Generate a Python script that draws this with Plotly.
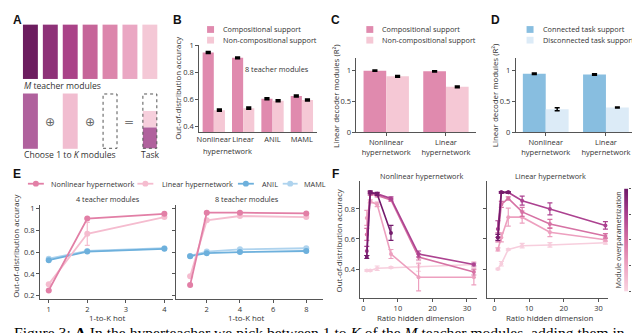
import math
import plotly.graph_objects as go

W, H = 640, 333
FONT = "Open Sans"

def X(px):
    return px / W

def Y(py):
    return 1 - py / H

# ---------------- data ----------------
# Panel B
b_groups = ["Nonlinear", "Linear", "ANIL", "MAML"]
b_comp = [0.95, 0.91, 0.605, 0.625]
b_comp_err = [0.005, 0.004, 0.005, 0.005]
b_noncomp = [0.52, 0.535, 0.59, 0.595]
b_noncomp_err = [0.006, 0.006, 0.004, 0.005]

# Panel C
c_groups = ["Nonlinear<br>hypernetwork", "Linear<br>hypernetwork"]
c_comp = [0.99, 0.98]
c_comp_err = [0.005, 0.005]
c_noncomp = [0.90, 0.73]
c_noncomp_err = [0.008, 0.008]

# Panel D
d_groups = ["Nonlinear<br>hypernetwork", "Linear<br>hypernetwork"]
d_conn = [0.94, 0.93]
d_conn_err = [0.006, 0.006]
d_disc = [0.37, 0.40]
d_disc_err = [0.025, 0.008]

# Panel E
e_methods = ["Nonlinear hypernetwork", "Linear hypernetwork", "ANIL", "MAML"]
e4_k = [1, 2, 4]
e4_vals = {
    "Nonlinear hypernetwork": [0.25, 0.907, 0.95],
    "Linear hypernetwork": [0.307, 0.767, 0.92],
    "ANIL": [0.526, 0.605, 0.63],
    "MAML": [0.54, 0.61, 0.635],
}
e4_err = {
    "Nonlinear hypernetwork": [0.005, 0.005, 0.005],
    "Linear hypernetwork": [0.005, 0.105, 0.008],
    "ANIL": [0.005, 0.005, 0.005],
    "MAML": [0.005, 0.005, 0.005],
}
e8_k = [1, 2, 4, 8]
e8_vals = {
    "Nonlinear hypernetwork": [0.30, 0.96, 0.96, 0.953],
    "Linear hypernetwork": [0.38, 0.89, 0.93, 0.92],
    "ANIL": [0.563, 0.59, 0.60, 0.61],
    "MAML": [0.565, 0.605, 0.625, 0.635],
}
e8_err = {
    "Nonlinear hypernetwork": [0.005, 0.005, 0.005, 0.005],
    "Linear hypernetwork": [0.005, 0.008, 0.005, 0.005],
    "ANIL": [0.005, 0.005, 0.005, 0.005],
    "MAML": [0.005, 0.005, 0.005, 0.005],
}

# Panel F
f_ratio = [1, 2, 4, 8, 16, 32]
f_over = [1, 2, 4, 8, 16]
f_left = {
    1: [0.39, 0.39, 0.405, 0.41, 0.415, 0.43],
    2: [0.74, 0.85, 0.83, 0.50, 0.345, 0.345],
    4: [0.63, 0.90, 0.89, 0.86, 0.48, 0.38],
    8: [0.52, 0.91, 0.90, 0.87, 0.50, 0.43],
    16: [0.48, 0.91, 0.90, 0.64],
}
f_left_err = {
    1: [0.005, 0.005, 0.015, 0.005, 0.03, 0.02],
    2: [0.05, 0.01, 0.015, 0.03, 0.09, 0.05],
    4: [0.04, 0.01, 0.01, 0.01, 0.02, 0.02],
    8: [0.03, 0.005, 0.005, 0.01, 0.02, 0.01],
    16: [0.01, 0.01, 0.01, 0.05],
}
f_right = {
    1: [0.40, 0.435, 0.53, 0.555, 0.56, 0.575],
    2: [0.53, 0.61, 0.745, 0.745, 0.645, 0.595],
    4: [0.61, 0.83, 0.87, 0.78, 0.70, 0.62],
    8: [0.666, 0.91, 0.91, 0.855, 0.80, 0.69],
    16: [0.61, 0.91, 0.91],
}
f_right_err = {
    1: [0.005, 0.015, 0.005, 0.015, 0.015, 0.01],
    2: [0.01, 0.03, 0.06, 0.04, 0.03, 0.01],
    4: [0.03, 0.02, 0.01, 0.03, 0.03, 0.015],
    8: [0.055, 0.005, 0.005, 0.03, 0.04, 0.025],
    16: [0.02, 0.005, 0.005],
}
cbar_ticks = ["1", "2", "4", "8", "16"]

# Panel A colours (teacher modules)
a_module_colors = ["#6C1D5F", "#8E3278", "#AA4388", "#C66599", "#DC86AC", "#EAA7C3", "#F4C8D6"]

# ---------------- styles ----------------
PINK = "#E08AAE"
PINK_L = "#F5C8D5"
BLUE = "#88BEE0"
BLUE_L = "#DCEBF7"
E_COL = {"Nonlinear hypernetwork": "#E27FA6", "Linear hypernetwork": "#F5BCCF",
         "ANIL": "#6DB0DC", "MAML": "#AED3EE"}
F_COL = {1: "#F7CEDD", 2: "#EDA0BF", 4: "#D672A4", 8: "#AC4290", 16: "#741B6C"}
F_SCALE = [[0, "#F9D5E2"], [0.25, "#EFA6C3"], [0.5, "#D672A4"], [0.75, "#AC4290"], [1, "#6F1A6A"]]
AX = "#555"
TXT = 7.3      # legends and subplot titles
TICK = 7.5     # tick labels
ATITLE = 7.9   # axis titles

fig = go.Figure()

def errb(arr, color="black", th=2.2, w=2.6):
    return dict(type="data", array=arr, color=color, thickness=th, width=w, visible=True)

# B bars
fig.add_trace(go.Bar(x=list(range(len(b_groups))), y=b_comp, marker_color=PINK, marker_line_width=0,
                     error_y=errb(b_comp_err), xaxis="x", yaxis="y", showlegend=False))
fig.add_trace(go.Bar(x=list(range(len(b_groups))), y=b_noncomp, marker_color=PINK_L, marker_line_width=0,
                     error_y=errb(b_noncomp_err), xaxis="x", yaxis="y", showlegend=False))
# C bars
fig.add_trace(go.Bar(x=list(range(len(c_groups))), y=c_comp, marker_color=PINK, marker_line_width=0,
                     error_y=errb(c_comp_err), xaxis="x2", yaxis="y2", showlegend=False))
fig.add_trace(go.Bar(x=list(range(len(c_groups))), y=c_noncomp, marker_color=PINK_L, marker_line_width=0,
                     error_y=errb(c_noncomp_err), xaxis="x2", yaxis="y2", showlegend=False))
# D bars
fig.add_trace(go.Bar(x=list(range(len(d_groups))), y=d_conn, marker_color=BLUE, marker_line_width=0,
                     error_y=errb(d_conn_err), xaxis="x3", yaxis="y3", showlegend=False))
fig.add_trace(go.Bar(x=list(range(len(d_groups))), y=d_disc, marker_color=BLUE_L, marker_line_width=0,
                     error_y=errb(d_disc_err, th=1.5, w=2.5), xaxis="x3", yaxis="y3", showlegend=False))

# E lines
for m in ["MAML", "ANIL", "Linear hypernetwork", "Nonlinear hypernetwork"]:
    c = E_COL[m]
    fig.add_trace(go.Scatter(x=e4_k, y=e4_vals[m], mode="lines+markers",
                             line=dict(color=c, width=1.8), marker=dict(size=6, color=c),
                             error_y=errb(e4_err[m], color=c, th=1.2, w=2.5),
                             xaxis="x4", yaxis="y4", showlegend=False))
    fig.add_trace(go.Scatter(x=e8_k, y=e8_vals[m], mode="lines+markers",
                             line=dict(color=c, width=1.8), marker=dict(size=6, color=c),
                             error_y=errb(e8_err[m], color=c, th=1.2, w=2.5),
                             xaxis="x5", yaxis="y5", showlegend=False))

# F lines
for o in f_over:
    c = F_COL[o]
    yl = f_left[o]
    fig.add_trace(go.Scatter(x=f_ratio[:len(yl)], y=yl, mode="lines+markers",
                             line=dict(color=c, width=1.6), marker=dict(size=4, color=c),
                             error_y=errb(f_left_err[o], color=c, th=1.2, w=2.5),
                             xaxis="x6", yaxis="y6", showlegend=False))
    yr = f_right[o]
    fig.add_trace(go.Scatter(x=f_ratio[:len(yr)], y=yr, mode="lines+markers",
                             line=dict(color=c, width=1.6), marker=dict(size=4, color=c),
                             error_y=errb(f_right_err[o], color=c, th=1.2, w=2.5),
                             xaxis="x7", yaxis="y7", showlegend=False))

# colour scale bar (module overparametrization, log2 levels) drawn as a small heatmap
levels = [math.log2(o) for o in f_over]
fig.add_trace(go.Heatmap(z=[[v, v] for v in levels], x=[0, 1], y=levels, colorscale=F_SCALE,
                         zmin=levels[0], zmax=levels[-1], zsmooth="best", showscale=False,
                         hoverinfo="skip", xaxis="x8", yaxis="y8"))

def axis(dom, rng, **kw):
    d = dict(domain=dom, range=rng, showline=True, linecolor=AX, linewidth=0.8,
             ticks="outside", ticklen=3, tickwidth=0.8, tickcolor=AX, tickangle=0,
             tickfont=dict(size=TICK, color="#333", family=FONT), showgrid=False, zeroline=False,
             fixedrange=True)
    d.update(kw)
    return d

def xd(a, b):
    return [X(a), X(b)]

def yd(top, bottom):
    return [Y(bottom), Y(top)]

layout = dict(
    width=W, height=H, margin=dict(l=0, r=0, t=0, b=0), paper_bgcolor="white", plot_bgcolor="rgba(0,0,0,0)",
    barmode="group", bargap=0.24, bargroupgap=0, showlegend=False,
    font=dict(family=FONT, size=8, color="#333"),
    xaxis=axis(xd(189, 307), [-0.5, 3.5], tickvals=[0, 1, 2, 3], ticktext=b_groups, ticks="", anchor="y"),
    yaxis=axis(yd(33, 123), [0.355, 1.005], tickvals=[0.4, 0.6, 0.8, 1], ticktext=["0.4", "0.6", "0.8", "1"], anchor="x"),
    xaxis2=axis(xd(347, 467), [-0.5, 1.5], tickvals=[0, 1], ticktext=c_groups, anchor="y2"),
    yaxis2=axis(yd(46, 123), [0, 1.2], tickvals=[0, 0.5, 1], ticktext=["0", "0.5", "1"], anchor="x2"),
    xaxis3=axis(xd(507, 628), [-0.5, 1.5], tickvals=[0, 1], ticktext=d_groups, anchor="y3"),
    yaxis3=axis(yd(46, 123), [0, 1.2], tickvals=[0, 0.5, 1], ticktext=["0", "0.5", "1"], anchor="x3"),
    xaxis4=axis(xd(29, 163), [0.77, 4.23], tickvals=[1, 2, 3, 4], anchor="y4"),
    yaxis4=axis(yd(198, 295), [0.17, 1.03], tickvals=[0.2, 0.4, 0.6, 0.8, 1],
                ticktext=["0.2", "0.4", "0.6", "0.8", "1"], anchor="x4"),
    xaxis5=axis(xd(166, 313), [0.16, 8.98], tickvals=[2, 4, 6, 8], anchor="y5"),
    yaxis5=axis(yd(198, 295), [0.17, 1.03], tickvals=[0.2, 0.4, 0.6, 0.8, 1], showticklabels=False, anchor="x5"),
    xaxis6=axis(xd(351, 468), [-0.86, 32.85], tickvals=[0, 10, 20, 30], anchor="y6"),
    yaxis6=axis(yd(173, 294), [0.206, 0.987], tickvals=[0.4, 0.6, 0.8], anchor="x6"),
    xaxis7=axis(xd(478, 600), [-2.2, 32.8], tickvals=[0, 10, 20, 30], anchor="y7"),
    yaxis7=axis(yd(173, 294), [0.206, 0.987], tickvals=[0.4, 0.6, 0.8], showticklabels=False, anchor="x7"),
    xaxis8=dict(domain=xd(616, 620), range=[0, 1], visible=False, fixedrange=True, anchor="y8"),
    yaxis8=axis(yd(181, 287), [levels[0], levels[-1]], side="right", anchor="x8", showline=False,
                tickvals=levels, ticktext=cbar_ticks, ticklen=2),
)
fig.update_layout(**layout)

anns = []
shapes = []

def ann(text, x, y, size=TXT, xa="center", ya="middle", angle=0, color="#333", family=FONT):
    anns.append(dict(text=text, x=X(x), y=Y(y), xref="paper", yref="paper", showarrow=False,
                     xanchor=xa, yanchor=ya, textangle=angle,
                     font=dict(size=size, color=color, family=family)))

def rect(x0, y0, x1, y1, fill="rgba(0,0,0,0)", line=None, dash="solid", lw=0):
    shapes.append(dict(type="rect", xref="paper", yref="paper", x0=X(x0), x1=X(x1), y0=Y(y1), y1=Y(y0),
                       fillcolor=fill, line=dict(color=line or "rgba(0,0,0,0)", width=lw, dash=dash),
                       layer="above"))

# Panel letters
for L, x, y in [("A", 0, 0), ("B", 161, 0), ("C", 319, 0), ("D", 480, 0), ("E", 0, 159), ("F", 321, 159)]:
    ann("<b>%s</b>" % L, x, y - 2, size=12, xa="left", ya="top", color="#111", family="Liberation Sans")

# Panel A drawing
for i, c in enumerate(a_module_colors):
    rect(12 + 20 * i, 12, 27 + 20 * i, 68, fill=c)
ann("<i>M</i> teacher modules", 11, 75.5, size=8.6, xa="left")
rect(12, 83, 27, 140, fill="#B0619D")
rect(52, 83, 67, 140, fill="#F1BDD0")
rect(92.5, 83.5, 106.5, 139.5, line="#555", dash="dot", lw=1)
ann("⊕", 39.5, 112.5, size=12, color="#666", family="DejaVu Sans")
ann("⊕", 79.5, 112.5, size=12, color="#666", family="DejaVu Sans")
ann("=", 118.5, 112, size=12, color="#777", family="DejaVu Sans")
rect(132.5, 101, 146.5, 118, fill="#F6CFDC")
rect(132.5, 118, 146.5, 139.5, fill="#B0619D")
rect(132.5, 83.5, 146.5, 139.5, line="#555", dash="dot", lw=1)
ann("Choose 1 to <i>K</i> modules", 11, 146.5, size=8.6, xa="left")
ann("Task", 140, 146.5, size=8.6)

# Legends B, C, D
def sq_legend(x_sw, x_txt, items):
    for (label, col), yc in zip(items, [17, 28]):
        rect(x_sw, yc - 3.5, x_sw + 7, yc + 3.5, fill=col)
        ann(label, x_txt, yc, xa="left")

sq_legend(197, 211, [("Compositional support", PINK), ("Non-compositional support", PINK_L)])
sq_legend(357, 371, [("Compositional support", PINK), ("Non-compositional support", PINK_L)])
sq_legend(518, 532, [("Connected task support", BLUE), ("Disconnected task support", BLUE_L)])

ann("8 teacher modules", 267, 58)
ann("hypernetwork", 218, 142, size=TICK)

# y titles
ann("Out-of-distribution accuracy", 167, 78, angle=-90, size=ATITLE)
ann("Linear decoder modules (R²)", 327, 85, angle=-90, size=ATITLE)
ann("Linear decoder modules (R²)", 487, 85, angle=-90, size=ATITLE)
ann("Out-of-distribution accuracy", 5, 240, angle=-90, size=ATITLE)
ann("Out-of-distribution accuracy", 329, 235, angle=-90, size=ATITLE)
ann("Module overparametrization", 609.5, 234, angle=-90, size=TXT)

# E legend
for m, x0, x1, xt in [("Nonlinear hypernetwork", 17, 33, 38), ("Linear hypernetwork", 127, 143, 150),
                      ("ANIL", 228, 244, 250), ("MAML", 273, 288, 292)]:
    c = E_COL[m]
    shapes.append(dict(type="line", xref="paper", yref="paper", x0=X(x0), x1=X(x1), y0=Y(176), y1=Y(176),
                       line=dict(color=c, width=1.8)))
    xm = (x0 + x1) / 2
    shapes.append(dict(type="circle", xref="paper", yref="paper", x0=X(xm - 3), x1=X(xm + 3),
                       y0=Y(179), y1=Y(173), fillcolor=c, line=dict(color=c, width=0)))
    ann(m, xt, 176, xa="left")

# subplot titles and x titles
ann("4 teacher modules", 97, 192)
ann("8 teacher modules", 237, 192)
ann("1-to-K hot", 97, 314, size=ATITLE)
ann("1-to-K hot", 237, 314, size=ATITLE)
ann("Nonlinear hypernetwork", 412, 168)
ann("Linear hypernetwork", 542, 168)
ann("Ratio hidden dimension", 412, 314, size=ATITLE)
ann("Ratio hidden dimension", 542, 314, size=ATITLE)

# caption (cut off at bottom)
anns.append(dict(text="Figure 3: <b>A</b> In the hyperteacher we pick between 1 to <i>K</i> of the <i>M</i> teacher modules, adding them in",
                 x=X(1), y=Y(319), xref="paper", yref="paper", showarrow=False, xanchor="left", yanchor="top",
                 font=dict(size=15.6, color="#000", family="Liberation Serif")))

fig.update_layout(annotations=anns, shapes=shapes)
fig.write_html("out.html")
